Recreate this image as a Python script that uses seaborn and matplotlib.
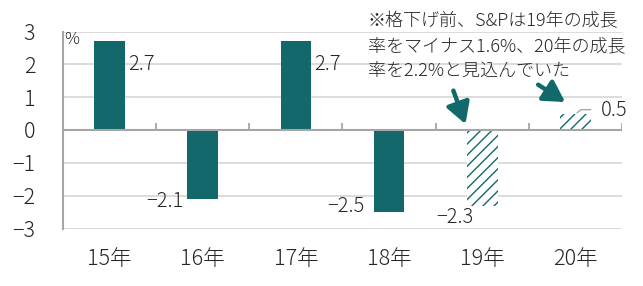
import matplotlib
matplotlib.use("Agg")
import matplotlib.pyplot as plt
import seaborn as sns
import pandas as pd

# ---- data ----
years = ["15年", "16年", "17年", "18年", "19年", "20年"]
growth = [2.7, -2.1, 2.7, -2.5, -2.3, 0.5]
is_forecast = [False, False, False, False, True, True]
value_labels = ["2.7", "−2.1", "2.7", "−2.5", "−2.3", "0.5"]
y_ticks = [3, 2, 1, 0, -1, -2, -3]
note_text = "※格下げ前、S&Pは19年の成長\n率をマイナス1.6%、20年の成長\n率を2.2%と見込んでいた"

TEAL = "#13686b"
TEXT = "#262626"
GRID = "#d9d9d9"
AXIS = "#a6a6a6"

sns.set_theme(style="white")
plt.rcParams["font.family"] = ["Noto Sans CJK JP", "DejaVu Sans"]
plt.rcParams["font.weight"] = "light"
plt.rcParams["hatch.linewidth"] = 1.0
plt.rcParams["axes.unicode_minus"] = True

df = pd.DataFrame({"year": years, "growth": growth})

fig = plt.figure(figsize=(6.43, 2.86), dpi=100)
ax = fig.add_axes([63 / 643, 1 - 228.5 / 286, (622 - 63) / 643, (228.5 - 31.5) / 286])

sns.barplot(data=df, x="year", y="growth", color=TEAL, width=0.33,
            saturation=1, ax=ax, zorder=3)

bars = ax.patches
for p, fc in zip(bars, is_forecast):
    p.set_linewidth(0)
    if fc:
        p.set_facecolor("white")
        p.set_edgecolor(TEAL)
        p.set_hatch("///")
        p.set_linewidth(0)

ax.set_ylim(-3, 3)
ax.set_xlim(-0.5, len(years) - 0.5)
ax.set_yticks(y_ticks)
ax.set_yticklabels([f"{t}".replace("-", "−") for t in y_ticks])
ax.set_xlabel("")
ax.set_ylabel("")

for t in y_ticks:
    if t != 0:
        ax.axhline(t, color=GRID, lw=1.3, zorder=1)
ax.axhline(0, color=AXIS, lw=1.5, zorder=4)
ax.vlines([i + 0.5 for i in range(len(years))], 0, 0.2, color=AXIS, lw=1.3, zorder=4)

for s in ["top", "right", "bottom"]:
    ax.spines[s].set_visible(False)
ax.spines["left"].set_color(AXIS)
ax.spines["left"].set_linewidth(1.5)
ax.spines["left"].set_zorder(5)

ax.tick_params(axis="y", length=0, pad=20, labelsize=15.5, labelcolor=TEXT)
ax.tick_params(axis="x", length=0, pad=14, labelsize=15.5, labelcolor=TEXT)

ax.text(0.003, 1.0, "%", transform=ax.transAxes, ha="left", va="top",
        fontsize=12, color=TEXT)

# value labels (offsets in pixels relative to bar corners)
px = 0.72
label_spec = [
    ("right", "top", 3, -23, "left"),
    ("left", "bottom", -4, -3, "right"),
    ("right", "top", 3, -23, "left"),
    ("left", "bottom", -9, 6, "right"),
    ("left", "bottom", 7, -12, "right"),
    ("right", "top", 10, 3, "left"),
]
for p, lab, (side, end, dx, dy, ha) in zip(bars, value_labels, label_spec):
    x = p.get_x() + (p.get_width() if side == "right" else 0)
    y0, y1 = p.get_y(), p.get_y() + p.get_height()
    y = max(y0, y1) if end == "top" else min(y0, y1)
    ax.annotate(lab, (x, y), xytext=(dx * px, dy * px), textcoords="offset points",
                ha=ha, va="center", fontsize=14.5, color=TEXT, zorder=6)

# leader line for last bar
last = bars[-1]
lx = last.get_x() + last.get_width() * 0.55
ax.plot([lx, lx + 0.045, last.get_x() + last.get_width()],
        [0.52, 0.62, 0.62], color=AXIS, lw=1, zorder=5, clip_on=False)

# note and arrows
fig.text(368 / 643, 1 - 12 / 286, note_text, ha="left", va="top", fontsize=13,
         color=TEXT, linespacing=1.5)
arrow_kw = dict(arrowstyle="-|>,head_length=1.05,head_width=0.6", color=TEAL, lw=3.2,
                shrinkA=0, shrinkB=0)
ax.annotate("", xy=(3.82, 0.18), xytext=(3.69, 1.2), arrowprops=arrow_kw, zorder=7)
ax.annotate("", xy=(4.89, 0.85), xytext=(4.6, 1.38), arrowprops=arrow_kw, zorder=7)

fig.savefig("out.png", dpi=100, facecolor="white")
